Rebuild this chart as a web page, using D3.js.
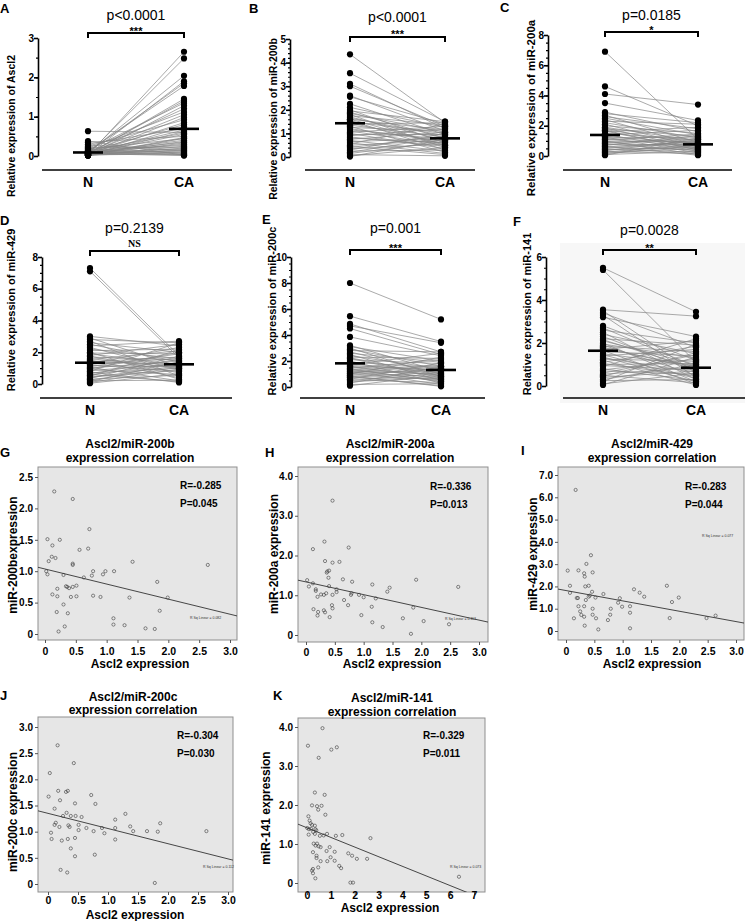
<!DOCTYPE html>
<html>
<head>
<meta charset="utf-8">
<script src="https://cdn.jsdelivr.net/npm/d3@7"></script>
<style>
body { margin: 0; background: #fff; }
svg { display: block; font-family: Arial, "Liberation Sans", sans-serif; }
</style>
</head>
<body>
<script>
// ---- paired N / CA data (panels A-F) ----
const groups = ["N", "CA"];

const ascl2N = [0.02,0.05,0.08,0.03,0.10,0.12,0.04,0.06,0.15,0.01,0.09,0.20,0.07,0.03,0.25,0.05,0.11,0.02,0.30,0.08,
  0.04,0.13,0.06,0.35,0.02,0.18,0.09,0.05,0.63,0.03,0.07,0.14,0.01,0.22,0.06,0.10,0.04,0.28,0.08,0.02,
  0.05,0.16,0.03,0.12,0.07,0.38,0.04,0.09,0.01,0.06];
const ascl2CA = [2.65,2.48,2.04,1.90,1.85,1.78,1.45,1.40,1.35,1.28,1.20,1.12,1.05,0.98,0.92,0.85,0.80,0.75,0.70,0.66,
  0.62,0.58,0.55,0.50,0.47,0.44,0.40,0.37,0.60,0.33,0.30,0.27,0.25,0.22,0.20,0.18,0.16,0.14,0.12,0.10,
  0.08,0.07,0.05,0.04,0.03,0.02,0.15,0.35,0.45,0.01];
const ascl2Mean = [0.09, 0.69];

const mir200bN = [4.35,3.55,3.10,3.00,2.60,2.55,2.25,2.10,2.00,1.95,1.90,1.85,1.80,1.75,1.70,1.65,1.60,1.55,1.50,1.45,
  1.40,1.35,1.30,1.25,1.20,1.15,1.10,1.05,1.00,0.95,0.90,0.85,0.80,0.75,0.70,0.65,0.60,0.55,0.50,0.45,
  0.40,0.35,0.30,0.25,0.20,0.15,0.10,0.05,0.02,1.60];
const mir200bCA = [1.45,1.50,1.20,1.30,1.10,1.40,0.95,1.25,0.60,1.50,0.80,1.05,0.40,1.35,0.70,0.90,1.15,0.30,1.00,0.55,
  1.45,0.85,0.20,1.10,0.65,0.75,0.50,1.30,0.35,0.95,1.20,0.45,0.60,1.05,0.25,0.80,0.15,1.40,0.70,0.10,
  0.90,0.55,1.00,0.30,0.85,0.65,0.05,0.40,0.75,0.50];
const mir200bMean = [1.43, 0.79];

const mir200aN = [6.90,4.60,4.10,3.50,2.90,2.80,2.70,2.60,2.50,2.40,2.30,2.20,2.10,2.00,1.90,1.85,1.80,1.75,1.70,1.60,
  1.50,1.45,1.40,1.30,1.25,1.20,1.10,1.05,1.00,0.95,0.90,0.85,0.80,0.75,0.70,0.65,0.60,0.55,0.50,0.45,
  0.40,0.35,0.30,0.25,0.20,0.15,0.10,0.05,1.65,1.15];
const mir200aCA = [1.10,2.00,3.40,2.35,1.60,2.20,0.90,1.80,1.40,0.70,2.10,1.20,0.60,1.50,1.00,0.50,1.30,0.80,0.40,1.90,
  1.05,0.30,1.70,0.85,0.20,1.25,0.65,1.45,0.10,0.95,0.55,1.15,0.35,0.75,1.35,0.05,0.90,0.45,1.00,0.25,
  0.60,1.10,0.15,0.80,0.50,0.70,0.30,1.20,0.40,0.85];
const mir200aMean = [1.39, 0.77];

const mir429N = [7.30,7.10,3.00,2.90,2.80,2.70,2.60,2.50,2.40,2.30,2.20,2.10,2.00,1.95,1.90,1.80,1.75,1.70,1.60,1.55,
  1.50,1.40,1.35,1.30,1.20,1.15,1.10,1.05,1.00,0.95,0.90,0.85,0.80,0.70,0.65,0.60,0.55,0.50,0.45,0.40,
  0.35,0.30,0.25,0.20,0.15,0.10,0.05,1.25,0.75,1.45];
const mir429CA = [1.80,1.65,2.40,1.10,2.60,0.50,2.00,1.40,2.70,0.90,1.60,2.20,0.30,1.90,1.20,2.50,0.70,1.50,1.00,2.10,
  0.40,1.70,1.30,2.30,0.80,1.10,1.90,0.20,1.45,2.00,0.60,1.25,2.60,1.00,1.55,0.15,1.35,2.15,0.85,1.15,
  1.75,0.55,1.05,0.25,1.40,0.95,0.65,1.60,0.10,1.20];
const mir429Mean = [1.34, 1.24];

const mir200cN = [8.00,5.45,4.85,4.70,4.50,3.85,3.20,3.10,3.00,2.90,2.80,2.70,2.60,2.50,2.40,2.30,2.20,2.10,2.00,1.90,
  1.80,1.70,1.60,1.55,1.50,1.45,1.40,1.30,1.25,1.20,1.10,1.05,1.00,0.95,0.90,0.80,0.75,0.70,0.60,0.55,
  0.50,0.40,0.30,0.20,0.10,1.35,1.65,0.85,2.25,1.15];
const mir200cCA = [5.20,3.50,2.70,3.40,2.50,2.40,1.20,2.00,0.80,1.60,2.70,1.00,1.90,0.50,1.40,2.20,0.70,1.80,0.30,1.50,
  1.10,2.60,0.60,1.30,0.90,2.10,0.40,1.70,1.00,0.20,1.25,0.80,2.30,0.55,1.45,0.10,1.15,0.65,1.85,0.35,
  1.05,0.75,1.55,0.25,0.95,0.45,1.35,0.05,0.85,1.60];
const mir200cMean = [1.82, 1.31];

const mir141N = [5.50,5.40,3.55,3.50,3.40,3.30,3.20,2.80,2.70,2.60,2.50,2.40,2.30,2.20,2.10,2.00,1.95,1.90,1.85,1.80,
  1.70,1.65,1.60,1.50,1.45,1.40,1.30,1.25,1.20,1.10,1.05,1.00,0.95,0.90,0.80,0.75,0.70,0.60,0.55,0.50,
  0.45,0.40,0.30,0.25,0.20,0.10,0.05,1.75,1.35,2.15];
const mir141CA = [3.45,1.10,3.25,0.60,1.80,0.40,2.30,1.20,0.90,2.00,0.30,1.50,0.70,1.90,1.00,0.20,1.30,0.50,1.60,0.80,
  2.10,0.10,1.40,0.95,0.35,1.70,0.65,1.15,0.05,1.85,0.45,1.05,0.75,2.20,0.25,1.25,0.55,1.45,0.85,0.15,
  1.55,0.70,1.00,0.30,1.95,0.60,1.35,0.90,0.20,0.80];
const mir141Mean = [1.64, 0.85];

const pairedP = ["p<0.0001", "p<0.0001", "p=0.0185", "p=0.2139", "p=0.001", "p=0.0028"];
const pairedSig = ["***", "***", "*", "NS", "***", "**"];

// ---- correlation data (panels G-K), [Ascl2, miR] ----
const corr200b = [[0.15,2.27],[0.45,2.15],[0.72,1.67],[0.04,1.51],[0.24,1.50],[0.12,1.41],[0.56,1.34],[0.70,1.36],
  [0.11,1.23],[0.17,1.21],[0.06,1.16],[0.45,1.12],[0.45,1.10],[1.42,1.15],[2.64,1.10],[0.02,1.00],[0.04,0.95],
  [0.78,1.00],[0.98,1.00],[1.12,1.00],[0.30,0.94],[0.63,0.90],[0.76,0.93],[0.94,0.95],[1.82,0.83],[0.20,0.72],
  [0.34,0.76],[0.36,0.75],[0.39,0.73],[0.45,0.75],[0.51,0.77],[0.12,0.63],[0.20,0.60],[0.42,0.59],[0.51,0.60],
  [0.78,0.61],[0.90,0.59],[1.37,0.58],[1.99,0.58],[0.30,0.47],[0.19,0.35],[0.37,0.33],[1.86,0.37],[1.11,0.25],
  [1.11,0.15],[1.29,0.14],[0.32,0.12],[0.22,0.04],[1.63,0.09],[1.78,0.08]];
const corr200a = [[0.46,3.38],[0.32,2.35],[0.12,2.16],[0.74,2.20],[0.33,1.86],[0.46,1.82],[0.58,1.84],[0.36,1.57],
  [0.37,1.60],[0.40,1.62],[0.39,1.44],[0.02,1.38],[0.64,1.40],[0.80,1.34],[1.91,1.39],[0.12,1.30],[0.05,1.22],
  [0.40,1.23],[1.15,1.27],[1.45,1.19],[1.41,1.09],[2.64,1.21],[0.17,1.15],[0.17,1.11],[0.53,1.15],[0.53,1.08],
  [0.20,0.96],[0.26,1.02],[0.31,1.01],[0.35,1.05],[0.46,1.01],[0.79,1.05],[0.78,1.01],[0.92,1.01],[1.00,0.95],
  [1.21,0.92],[0.66,0.88],[0.45,0.75],[0.46,0.67],[0.73,0.75],[1.14,0.71],[1.86,0.69],[0.13,0.65],[0.31,0.62],
  [0.33,0.57],[0.21,0.58],[0.20,0.49],[0.41,0.45],[0.96,0.50],[1.68,0.42],[2.04,0.35],[1.15,0.32],[1.33,0.20],
  [2.48,0.27],[1.82,0.03]];
const corr429 = [[0.17,6.33],[0.44,3.40],[0.36,3.01],[0.03,2.71],[0.22,2.72],[0.32,2.59],[0.47,2.63],[0.33,2.44],
  [0.07,2.03],[0.34,2.00],[0.40,2.03],[1.78,2.03],[1.20,1.87],[1.30,1.72],[0.46,1.76],[0.07,1.71],[1.38,1.54],
  [1.99,1.50],[0.42,1.59],[0.40,1.54],[0.52,1.50],[0.66,1.66],[0.19,1.48],[0.21,1.48],[0.35,1.39],[0.95,1.47],
  [0.92,1.27],[1.87,1.30],[1.13,1.11],[0.99,1.09],[0.22,1.11],[0.32,1.11],[0.79,1.00],[0.47,1.00],[0.25,0.88],
  [0.27,0.72],[0.47,0.73],[0.78,0.73],[0.32,0.64],[0.14,0.57],[0.53,0.57],[0.74,0.49],[1.83,0.58],[2.48,0.58],
  [2.64,0.69],[1.13,0.82],[0.33,0.24],[0.57,0.07],[1.13,0.12]];
const corr200c = [[0.16,2.65],[0.43,2.31],[0.03,2.12],[0.17,1.78],[0.33,1.78],[0.30,1.76],[0.72,1.70],[0.01,1.67],
  [0.20,1.60],[0.79,1.53],[0.45,1.54],[0.11,1.44],[0.31,1.36],[1.29,1.34],[0.25,1.30],[0.38,1.30],[0.46,1.30],
  [0.56,1.28],[1.12,1.23],[0.13,1.17],[0.11,1.13],[1.87,1.16],[0.51,1.13],[1.37,1.10],[0.19,1.09],[0.34,1.12],
  [0.36,1.09],[0.64,1.07],[1.12,1.07],[0.90,1.07],[0.05,0.98],[0.51,1.03],[0.76,1.01],[0.94,0.97],[1.42,1.01],
  [1.65,1.01],[1.83,1.00],[2.64,1.01],[0.06,0.86],[0.23,0.83],[0.33,0.86],[0.45,0.88],[1.12,0.85],[0.38,0.68],
  [0.45,0.53],[0.78,0.56],[0.21,0.27],[0.32,0.22],[1.78,0.02]];
const corr141 = [[0.65,3.97],[0.04,3.52],[1.02,3.42],[1.25,3.48],[0.49,3.21],[0.33,2.32],[0.74,2.26],[0.21,1.99],
  [0.42,1.97],[0.61,1.98],[0.47,1.88],[0.77,1.75],[0.06,1.71],[0.11,1.60],[0.15,1.53],[0.21,1.49],[0.33,1.47],
  [0.01,1.41],[0.08,1.38],[0.17,1.39],[0.35,1.38],[0.26,1.31],[0.39,1.35],[0.07,1.24],[0.33,1.26],[0.54,1.21],
  [0.70,1.22],[0.84,1.26],[1.21,1.21],[1.48,1.23],[2.66,1.15],[0.28,1.01],[0.42,1.01],[0.36,0.96],[0.49,0.94],
  [0.57,0.92],[0.95,0.92],[1.16,0.80],[0.82,0.82],[0.25,0.79],[1.73,0.76],[1.89,0.70],[2.09,0.62],[2.52,0.62],
  [0.99,0.66],[0.40,0.70],[0.40,0.64],[0.57,0.56],[0.85,0.56],[1.16,0.57],[1.35,0.44],[1.43,0.38],[0.47,0.40],
  [0.25,0.36],[0.21,0.32],[0.25,0.25],[0.35,0.12],[1.82,0.01],[1.93,0.01],[6.37,0.16]];

// fit lines: [intercept, slope]
const fit200b = [1.035, -0.24];
const fit200a = [1.335, -0.32];
const fit429 = [1.815, -0.464];
const fit200c = [1.35, -0.29];
const fit141 = [1.416, -0.247];

const corrR = ["R=-0.285", "R=-0.336", "R=-0.283", "R=-0.304", "R=-0.329"];
const corrP = ["P=0.045", "P=0.013", "P=0.044", "P=0.030", "P=0.011"];
const corrRsq = ["R Sq Linear = 0.082", "R Sq Linear = 0.113", "R Sq Linear = 0.077", "R Sq Linear = 0.112", "R Sq Linear = 0.073"];
const corrTitle = ["Ascl2/miR-200b", "Ascl2/miR-200a", "Ascl2/miR-429", "Ascl2/miR-200c", "Ascl2/miR-141"];
const corrYLab = ["miR-200bexpression", "miR-200a expression", "miR-429 expression", "miR-200c expression", "miR-141 expression"];

const svg = d3.select("body").append("svg")
  .attr("width", 745)
  .attr("height", 921);

// ---------- paired plots ----------
const paired = [
  { letter: "A", lx: 0, ly: 13, n: ascl2N, ca: ascl2CA, mean: ascl2Mean, max: 3, ticks: [0,1,2,3], minor: 0.5,
    ylab: "Relative expression of Ascl2", ylx: 15, yly: 126, ylfs: 10.5,
    ax: 38, y0: 156, y1: 38, xN: 88, xCA: 184, base: 170, baseX: [42, 232], catY: 187,
    brY: 33, pY: 20, sigY: 33 },
  { letter: "B", lx: 249, ly: 13, n: mir200bN, ca: mir200bCA, mean: mir200bMean, max: 5, ticks: [0,1,2,3,4,5], minor: 0.2,
    ylab: "Relative expression of  miR-200b", ylx: 277, yly: 119, ylfs: 10.5,
    ax: 290, y0: 157, y1: 39, xN: 350, xCA: 445, base: 170, baseX: [305, 475], catY: 187,
    brY: 37, pY: 22, sigY: 36 },
  { letter: "C", lx: 500, ly: 12, n: mir200aN, ca: mir200aCA, mean: mir200aMean, max: 8, ticks: [0,2,4,6,8], minor: 0.5,
    ylab: "Relative expression of miR-200a", ylx: 535, yly: 108, ylfs: 11.5,
    ax: 548, y0: 156, y1: 35, xN: 605, xCA: 698, base: 170, baseX: [563, 732], catY: 187,
    brY: 32, pY: 20, sigY: 32 },
  { letter: "D", lx: 0, ly: 225, n: mir429N, ca: mir429CA, mean: mir429Mean, max: 8, ticks: [0,2,4,6,8], minor: 0.5,
    ylab: "Relative expression of miR-429", ylx: 15, yly: 310, ylfs: 11,
    ax: 42, y0: 384, y1: 257, xN: 90, xCA: 179, base: 398, baseX: [40, 232], catY: 415,
    brY: 251, pY: 233, sigY: 247 },
  { letter: "E", lx: 262, ly: 224, n: mir200cN, ca: mir200cCA, mean: mir200cMean, max: 10, ticks: [0,2,4,6,8,10], minor: 0.5,
    ylab: "Relative expression of miR-200c", ylx: 276, yly: 311, ylfs: 11,
    ax: 291, y0: 387, y1: 257, xN: 350, xCA: 441, base: 398, baseX: [300, 485], catY: 415,
    brY: 250, pY: 233, sigY: 250 },
  { letter: "F", lx: 513, ly: 226, n: mir141N, ca: mir141CA, mean: mir141Mean, max: 6, ticks: [0,2,4,6], minor: 0.5,
    ylab: "Relative expression of miR-141", ylx: 531, yly: 314, ylfs: 11,
    ax: 546, y0: 386, y1: 257, xN: 603, xCA: 696, base: 398, baseX: [563, 745], catY: 415,
    brY: 250, pY: 235, sigY: 250 }
];

// faint background behind panel F
svg.append("rect").attr("x", 560).attr("y", 243).attr("width", 185).attr("height", 160).attr("fill", "#f7f7f7");

paired.forEach(function(p, i) {
  const g = svg.append("g");
  const y = d3.scaleLinear().domain([0, p.max]).range([p.y0, p.y1]);
  const x = d3.scaleOrdinal().domain(groups).range([p.xN, p.xCA]);

  g.selectAll(".pair")
    .data(d3.zip(p.n, p.ca))
    .enter().append("line")
    .attr("x1", x("N")).attr("x2", x("CA"))
    .attr("y1", d => y(d[0])).attr("y2", d => y(d[1]))
    .attr("stroke", "#858585").attr("stroke-width", 0.7);

  [["N", p.n], ["CA", p.ca]].forEach(function(s) {
    g.selectAll(".dot" + s[0])
      .data(s[1])
      .enter().append("circle")
      .attr("cx", x(s[0])).attr("cy", d => y(d))
      .attr("r", 3.1).attr("fill", "#000");
  });

  g.selectAll(".mean")
    .data(d3.zip(groups, p.mean))
    .enter().append("line")
    .attr("x1", d => x(d[0]) - 15).attr("x2", d => x(d[0]) + 15)
    .attr("y1", d => y(d[1])).attr("y2", d => y(d[1]))
    .attr("stroke", "#000").attr("stroke-width", 2.6);

  // y axis
  const minorG = g.append("g").attr("transform", "translate(" + p.ax + ",0)")
    .call(d3.axisLeft(y).tickValues(d3.range(0, p.max + 1e-9, p.minor)).tickSize(2).tickSizeOuter(0).tickFormat(""));
  minorG.select(".domain").remove();
  minorG.selectAll("line").attr("stroke-width", 1.2);
  const axG = g.append("g").attr("transform", "translate(" + p.ax + ",0)")
    .call(d3.axisLeft(y).tickValues(p.ticks).tickSize(4).tickSizeOuter(0).tickFormat(d3.format("d")));
  axG.select(".domain").attr("stroke-width", 1.6);
  axG.selectAll(".tick line").attr("stroke-width", 1.6);
  axG.selectAll("text").style("font-size", "10px").style("font-weight", "bold")
    .style("font-family", "Arial, 'Liberation Sans', sans-serif").attr("x", -4);

  g.append("text")
    .attr("transform", "translate(" + p.ylx + "," + p.yly + ") rotate(-90)")
    .attr("text-anchor", "middle")
    .style("font-size", p.ylfs + "px").style("font-weight", "bold")
    .text(p.ylab);

  // category axis
  g.append("line")
    .attr("x1", p.baseX[0]).attr("x2", p.baseX[1])
    .attr("y1", p.base).attr("y2", p.base)
    .attr("stroke", "#000").attr("stroke-width", 1.5);
  g.selectAll(".cat")
    .data(groups)
    .enter().append("text")
    .attr("x", d => x(d)).attr("y", p.catY)
    .attr("text-anchor", "middle")
    .style("font-size", "14px").style("font-weight", "bold")
    .text(d => d);

  // significance bracket
  g.append("path")
    .attr("d", "M" + x("N") + "," + (p.brY + 5) + "V" + p.brY + "H" + x("CA") + "V" + (p.brY + 5))
    .attr("fill", "none").attr("stroke", "#000").attr("stroke-width", 2);
  const mid = (x("N") + x("CA")) / 2;
  g.append("text")
    .attr("x", mid).attr("y", p.pY)
    .attr("text-anchor", "middle")
    .style("font-size", "14px")
    .text(pairedP[i]);
  const sig = g.append("text")
    .attr("x", mid).attr("text-anchor", "middle")
    .text(pairedSig[i]);
  if (pairedSig[i] === "NS") {
    sig.attr("y", p.sigY).style("font-family", "'Liberation Serif', 'DejaVu Serif', serif")
      .style("font-size", "10px").style("font-weight", "bold");
  } else {
    sig.attr("y", p.sigY + 2).style("font-size", "11px").style("font-weight", "bold");
  }

  g.append("text")
    .attr("x", p.lx).attr("y", p.ly)
    .style("font-size", "13px").style("font-weight", "bold")
    .text(p.letter);
});

// ---------- correlation plots ----------
const fmt1 = d => d === 0 ? "0" : d3.format(".1f")(d);
const scatter = [
  { letter: "G", lx: 0, ly: 457, data: corr200b, fit: fit200b, box: [38, 467, 237, 640],
    xDom: [0, 3], xRange: [45, 230], yDom: [0, 2.5], yRange: [634, 477],
    xTicks: d3.range(0, 3.01, 0.5), yTicks: d3.range(0, 2.51, 0.5), xFmt: fmt1,
    tx: 130, tY: [448, 462], rx: 180, rY: [489, 507], ylx: 17, yly: 555, xtx: 140, xtY: 668, xlY: 655,
    rsq: [190, 619] },
  { letter: "H", lx: 265, ly: 457, data: corr200a, fit: fit200a, box: [298, 467, 488, 642],
    xDom: [0, 3], xRange: [306, 479], yDom: [0, 4], yRange: [635, 476],
    xTicks: d3.range(0, 3.01, 0.5), yTicks: [0, 1, 2, 3, 4], xFmt: fmt1,
    tx: 390, tY: [448, 462], rx: 430, rY: [490, 508], ylx: 278, yly: 554, xtx: 392, xtY: 668, xlY: 656,
    rsq: [445, 620] },
  { letter: "I", lx: 521, ly: 455, data: corr429, fit: fit429, box: [558, 467, 744, 640],
    xDom: [0, 3], xRange: [566, 736], yDom: [0, 7], yRange: [631, 475],
    xTicks: d3.range(0, 3.01, 0.5), yTicks: [0, 1, 2, 3, 4, 5, 6, 7], xFmt: fmt1,
    tx: 652, tY: [448, 462], rx: 685, rY: [490, 508], ylx: 537, yly: 554, xtx: 652, xtY: 668, xlY: 655,
    rsq: [702, 537] },
  { letter: "J", lx: 0, ly: 700, data: corr200c, fit: fit200c, box: [38, 717, 233, 892],
    xDom: [0, 3], xRange: [48, 228], yDom: [0, 3], yRange: [884, 727],
    xTicks: d3.range(0, 3.01, 0.5), yTicks: d3.range(0, 3.01, 0.5), xFmt: fmt1,
    tx: 133, tY: [701, 714], rx: 177, rY: [739, 757], ylx: 17, yly: 812, xtx: 135, xtY: 919, xlY: 904,
    rsq: [203, 868] },
  { letter: "K", lx: 273, ly: 700, data: corr141, fit: fit141, box: [298, 718, 485, 892],
    xDom: [0, 7], xRange: [307, 474], yDom: [0, 4], yRange: [883, 727],
    xTicks: d3.range(0, 8), yTicks: [0, 1, 2, 3, 4], xFmt: d3.format("d"),
    tx: 392, tY: [702, 716], rx: 423, rY: [739, 757], ylx: 270, yly: 808, xtx: 390, xtY: 912, xlY: 899,
    rsq: [450, 868] }
];

scatter.forEach(function(s, i) {
  const g = svg.append("g");
  const x = d3.scaleLinear().domain(s.xDom).range(s.xRange);
  const y = d3.scaleLinear().domain(s.yDom).range(s.yRange);
  const b = s.box;

  g.append("rect")
    .attr("x", b[0]).attr("y", b[1]).attr("width", b[2] - b[0]).attr("height", b[3] - b[1])
    .attr("fill", "#e6e6e6").attr("stroke", "#8f8f8f").attr("stroke-width", 1);

  const clipId = "clip" + i;
  g.append("clipPath").attr("id", clipId).append("rect")
    .attr("x", b[0]).attr("y", b[1]).attr("width", b[2] - b[0]).attr("height", b[3] - b[1]);

  const xs = [x.invert(b[0]), x.invert(b[2])];
  g.append("line")
    .attr("clip-path", "url(#" + clipId + ")")
    .attr("x1", x(xs[0])).attr("x2", x(xs[1]))
    .attr("y1", y(s.fit[0] + s.fit[1] * xs[0])).attr("y2", y(s.fit[0] + s.fit[1] * xs[1]))
    .attr("stroke", "#333").attr("stroke-width", 0.9);

  g.selectAll(".pt")
    .data(s.data)
    .enter().append("circle")
    .attr("cx", d => x(d[0])).attr("cy", d => y(d[1]))
    .attr("r", 1.6)
    .attr("fill", "none").attr("stroke", "#3a3a3a").attr("stroke-width", 0.6);

  const yAx = g.append("g").attr("transform", "translate(" + b[0] + ",0)")
    .call(d3.axisLeft(y).tickValues(s.yTicks).tickSize(3).tickSizeOuter(0).tickFormat(fmt1));
  yAx.select(".domain").remove();
  yAx.selectAll("line").attr("stroke", "#555");
  yAx.selectAll("text").attr("x", -5).style("font-size", "10px").style("font-weight", "bold")
    .style("font-family", "Arial, 'Liberation Sans', sans-serif");

  const xAx = g.append("g").attr("transform", "translate(0," + b[3] + ")")
    .call(d3.axisBottom(x).tickValues(s.xTicks).tickSize(3).tickSizeOuter(0).tickFormat(s.xFmt));
  xAx.select(".domain").remove();
  xAx.selectAll("line").attr("stroke", "#555");
  xAx.selectAll("text").attr("dy", null).attr("y", s.xlY - b[3])
    .style("font-size", "10.5px").style("font-weight", "bold")
    .style("font-family", "Arial, 'Liberation Sans', sans-serif");

  g.append("text").attr("x", s.tx).attr("y", s.tY[0]).attr("text-anchor", "middle")
    .style("font-size", "12px").style("font-weight", "bold").text(corrTitle[i]);
  g.append("text").attr("x", s.tx).attr("y", s.tY[1]).attr("text-anchor", "middle")
    .style("font-size", "12px").style("font-weight", "bold").text("expression correlation");

  g.append("text").attr("x", s.rx).attr("y", s.rY[0])
    .style("font-size", "10px").style("font-weight", "bold").text(corrR[i]);
  g.append("text").attr("x", s.rx).attr("y", s.rY[1])
    .style("font-size", "10px").style("font-weight", "bold").text(corrP[i]);

  g.append("text").attr("x", s.rsq[0]).attr("y", s.rsq[1])
    .style("font-size", "3.5px").style("fill", "#333").text(corrRsq[i]);

  g.append("text")
    .attr("transform", "translate(" + s.ylx + "," + s.yly + ") rotate(-90)")
    .attr("text-anchor", "middle")
    .style("font-size", "12px").style("font-weight", "bold")
    .text(corrYLab[i]);
  g.append("text").attr("x", s.xtx).attr("y", s.xtY).attr("text-anchor", "middle")
    .style("font-size", "12px").style("font-weight", "bold").text("Ascl2 expression");

  g.append("text").attr("x", s.lx).attr("y", s.ly)
    .style("font-size", "13px").style("font-weight", "bold").text(s.letter);
});
</script>
</body>
</html>
